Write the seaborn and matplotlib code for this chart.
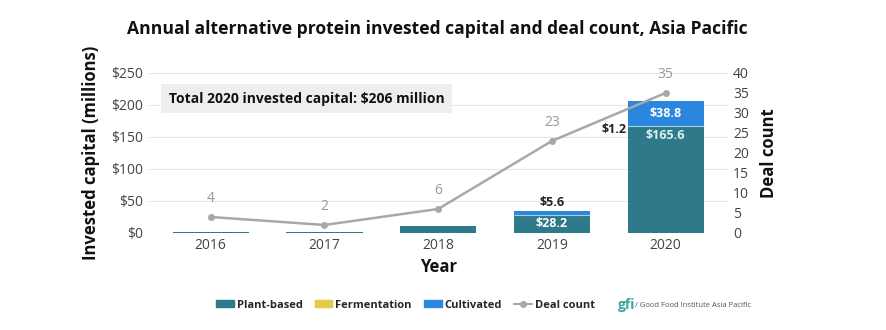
import matplotlib
matplotlib.use("Agg")
import matplotlib.pyplot as plt
import seaborn as sns
import pandas as pd
import numpy as np

years = ["2016", "2017", "2018", "2019", "2020"]
plant_based = [2.0, 1.2, 10.5, 28.2, 165.6]
fermentation = [0.0, 0.0, 0.0, 0.0, 1.2]
cultivated = [0.0, 0.0, 0.0, 5.6, 38.8]
deal_count = [4, 2, 6, 23, 35]

C_PLANT = "#2f7a8a"
C_FERM = "#e6c84a"
C_CULT = "#2a86de"
C_LINE = "#a8a8a8"

sns.set_theme(style="white")
plt.rcParams['font.family'] = ['Open Sans', 'DejaVu Sans']

df = pd.DataFrame({"year": years, "plant": plant_based, "ferm": fermentation, "cult": cultivated, "deals": deal_count})
df["pf"] = df["plant"] + df["ferm"]
df["total"] = df["pf"] + df["cult"]

fig = plt.figure(figsize=(8.87, 3.3), dpi=100)
ax = fig.add_axes([0.167, 0.294, 0.654, 0.485])

for col, c in [("total", C_CULT), ("pf", C_FERM), ("plant", C_PLANT)]:
    sns.barplot(data=df, x="year", y=col, color=c, width=0.67, ax=ax, saturation=1, linewidth=0)

ax.set_ylim(0, 250)
ax.set_yticks(range(0, 251, 50))
ax.set_yticklabels([f"${v}" for v in range(0, 251, 50)], color="#444444", fontsize=10)
ax.tick_params(axis="x", labelsize=10, labelcolor="#444444", length=0)
ax.tick_params(axis="y", length=0)
ax.yaxis.grid(True, color="#e6e6e6", linewidth=0.8)
ax.set_axisbelow(True)
for s in ax.spines.values():
    s.set_visible(False)
ax.set_xlabel("Year", fontsize=12, fontweight="bold", color="#111111", labelpad=4)
ax.set_ylabel("Invested capital (millions)", fontsize=12, fontweight="bold", color="#111111", labelpad=8)
ax.set_xlim(-0.55, 4.55)

# thin separator between plant-based and cultivated segments (as in the reference)
ax.hlines([df["pf"][3], df["pf"][4]], [2.665, 3.665], [3.335, 4.335], color="#9fd0e6", linewidth=0.8)

ax2 = ax.twinx()
sns.lineplot(x=np.arange(len(years)), y=deal_count, color=C_LINE, marker="o", markersize=5,
             markeredgewidth=0, linewidth=1.8, ax=ax2)
ax2.set_ylim(0, 40)
ax2.set_yticks(range(0, 41, 5))
ax2.tick_params(axis="y", labelsize=10, labelcolor="#444444", length=0)
for s in ax2.spines.values():
    s.set_visible(False)
ax2.set_ylabel("Deal count", fontsize=12, fontweight="bold", color="#111111", labelpad=8)
for i, d in enumerate(deal_count):
    ax2.annotate(str(d), (i, d), xytext=(0, 8), textcoords="offset points", ha="center", va="bottom",
                 color="#999999", fontsize=10)

# bar value labels
ax.text(3, plant_based[3] / 2, f"${plant_based[3]}", ha="center", va="center", color="white", fontsize=9, fontweight="bold")
ax.text(3, df["total"][3] + 4, f"${cultivated[3]}", ha="center", va="bottom", color="#222222", fontsize=9, fontweight="bold")
ax.text(4, df["pf"][4] + cultivated[4] / 2, f"${cultivated[4]}", ha="center", va="center", color="white", fontsize=9, fontweight="bold")
ax.text(4, plant_based[4] - 14, f"${plant_based[4]}", ha="center", va="center", color="#dff0f5", fontsize=9, fontweight="bold")
ax.text(3.55, 162, f"${fermentation[4]}", ha="center", va="center", color="#222222", fontsize=9, fontweight="bold")

# highlight box
ax.text(-0.37, 210, "Total 2020 invested capital: $206 million", ha="left", va="center", fontsize=10,
        fontweight="bold", color="#111111",
        bbox=dict(boxstyle="square,pad=0.55", facecolor="#eeeeee", edgecolor="none"))

fig.suptitle("Annual alternative protein invested capital and deal count, Asia Pacific", x=0.493, y=0.94,
             fontsize=12.6, fontweight="bold", color="#111111")

from matplotlib.patches import Patch
from matplotlib.lines import Line2D
handles = [Patch(color=C_PLANT, label="Plant-based"), Patch(color=C_FERM, label="Fermentation"),
           Patch(color=C_CULT, label="Cultivated"),
           Line2D([0], [0], color=C_LINE, marker="o", markersize=4, linewidth=1.5, label="Deal count")]
leg = fig.legend(handles=handles, loc="center", bbox_to_anchor=(0.457, 0.075), ncol=4, frameon=False,
                 handlelength=1.6, handleheight=0.6, columnspacing=1.1, handletextpad=0.25,
                 prop={"weight": "bold", "size": 8})
fig.text(0.697, 0.075, "gfi", color="#3aa79a", fontsize=10, fontweight="bold", va="center")
fig.text(0.716, 0.075, "/ Good Food Institute Asia Pacific", color="#555555", fontsize=5.5, va="center")

fig.savefig("out.png", dpi=100)
